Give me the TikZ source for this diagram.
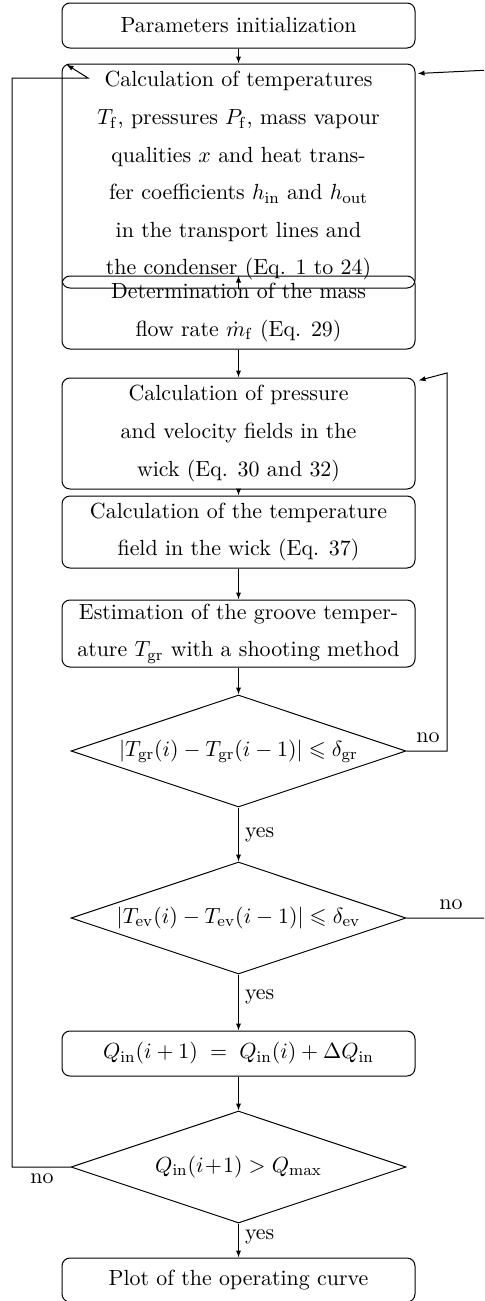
\documentclass[tikz,border=0pt]{standalone}
\usepackage{amssymb}
\usetikzlibrary{shapes.geometric,arrows.meta,calc}
\begin{document}
\begin{tikzpicture}[x=0.5pt,y=-0.5pt,
 box/.style={draw, rounded corners=4pt, minimum width=176.5pt, inner sep=0pt, align=center, font=\fontsize{10.95}{18.8}\selectfont, line width=0.5pt},
 dec/.style={draw, diamond, aspect=3, minimum width=167.5pt, minimum height=56pt, inner sep=0pt, font=\fontsize{10.95}{13}\selectfont, line width=0.5pt},
 arr/.style={-{Latex[length=3.5pt,width=2.6pt]}, line width=0.5pt},
 lbl/.style={font=\fontsize{10.95}{13}\selectfont, inner sep=0pt}]
\useasboundingbox (0,0) rectangle (484,1301);
\clip (0,0) rectangle (484,1301);
\node[box, minimum height=22.5pt] (b1) at (238.5,25.5) {Parameters initialization};
\node[box, minimum height=112pt] (b2) at (238.5,176) {Calculation of temperatures\\
$T_\mathrm{f}$, pressures $P_\mathrm{f}$, mass vapour\\
qualities $x$ and heat trans-\\
fer coefficients $h_\mathrm{in}$ and $h_\mathrm{out}$\\
in the transport lines and\\
the condenser (Eq. 1 to 24)};
\node[box, minimum height=36.5pt] (b3) at (238.5,312.5) {Determination of the mass\\ flow rate $\dot{m}_\mathrm{f}$ (Eq. 29)};
\node[box, minimum height=55.5pt] (b4) at (238.5,433.5) {Calculation of pressure\\ and velocity fields in the\\ wick (Eq. 30 and 32)};
\node[box, minimum height=36pt] (b5) at (238.5,532) {Calculation of the temperature\\ field in the wick (Eq. 37)};
\node[box, minimum height=33.5pt] (b6) at (238.5,633.5) {Estimation of the groove temper-\\ ature $T_\mathrm{gr}$ with a shooting method};
\node[dec] (d1) at (238.5,751) {$|T_\mathrm{gr}(i)-T_\mathrm{gr}(i-1)|\leqslant\delta_\mathrm{gr}$};
\node[dec] (d2) at (238.5,918) {$|T_\mathrm{ev}(i)-T_\mathrm{ev}(i-1)|\leqslant\delta_\mathrm{ev}$};
\node[box, minimum height=22.5pt] (b7) at (238.5,1053.5) {$Q_\mathrm{in}(i+1) \;=\; Q_\mathrm{in}(i)+\Delta Q_\mathrm{in}$};
\node[dec] (d3) at (238.5,1167) {$Q_\mathrm{in}(i\!+\!1)>Q_\mathrm{max}$};
\node[box, minimum height=22pt] (b8) at (238.5,1280) {Plot of the operating curve};

\draw[arr] (b1.south) -- (b2.north);
\draw[arr] (b2.south) -- (b3.north);
\draw[arr] (b3.south) -- (b4.north);
\draw[arr] (b4.south) -- (b5.north);
\draw[arr] (b5.south) -- (b6.north);
\draw[arr] (b6.south) -- (d1.north);
\draw[arr] (d1.south) -- node[lbl, anchor=west, xshift=3pt] {yes} (d2.north);
\draw[arr] (d2.south) -- node[lbl, anchor=west, xshift=3pt, yshift=3pt] {yes} (b7.north);
\draw[arr] (b7.south) -- (d3.north);
\draw[arr] (d3.south) -- node[lbl, anchor=west, xshift=3pt, yshift=2pt] {yes} (b8.north);

\coordinate (t4) at ($(b4.north east)+(3,3)$);
\coordinate (t2r) at ($(b2.north east)+(2,10)$);
\coordinate (t2l) at ($(b2.north west)+(5,1)$);
\coordinate (c1) at (447,751);
\coordinate (c1u) at (447,373);
\coordinate (c2) at (490,918);
\coordinate (c2u) at (490,70);
\coordinate (c3) at (12,1167);
\coordinate (c3u) at (12,78);
\coordinate (c3r) at (88,78);

\draw[arr] (d1.east) -- (c1) -- (c1u) -- (t4);
\draw[arr] (d2.east) -- (c2) -- (c2u) -- (t2r);
\draw[arr] (d3.west) -- (c3) -- (c3u) -- (c3r) -- (t2l);

\node[lbl] (n1) at (428,738) {no};
\node[lbl] (n2) at (451,905) {no};
\node[lbl] (n3) at (42,1179) {no};
\end{tikzpicture}
\end{document}
